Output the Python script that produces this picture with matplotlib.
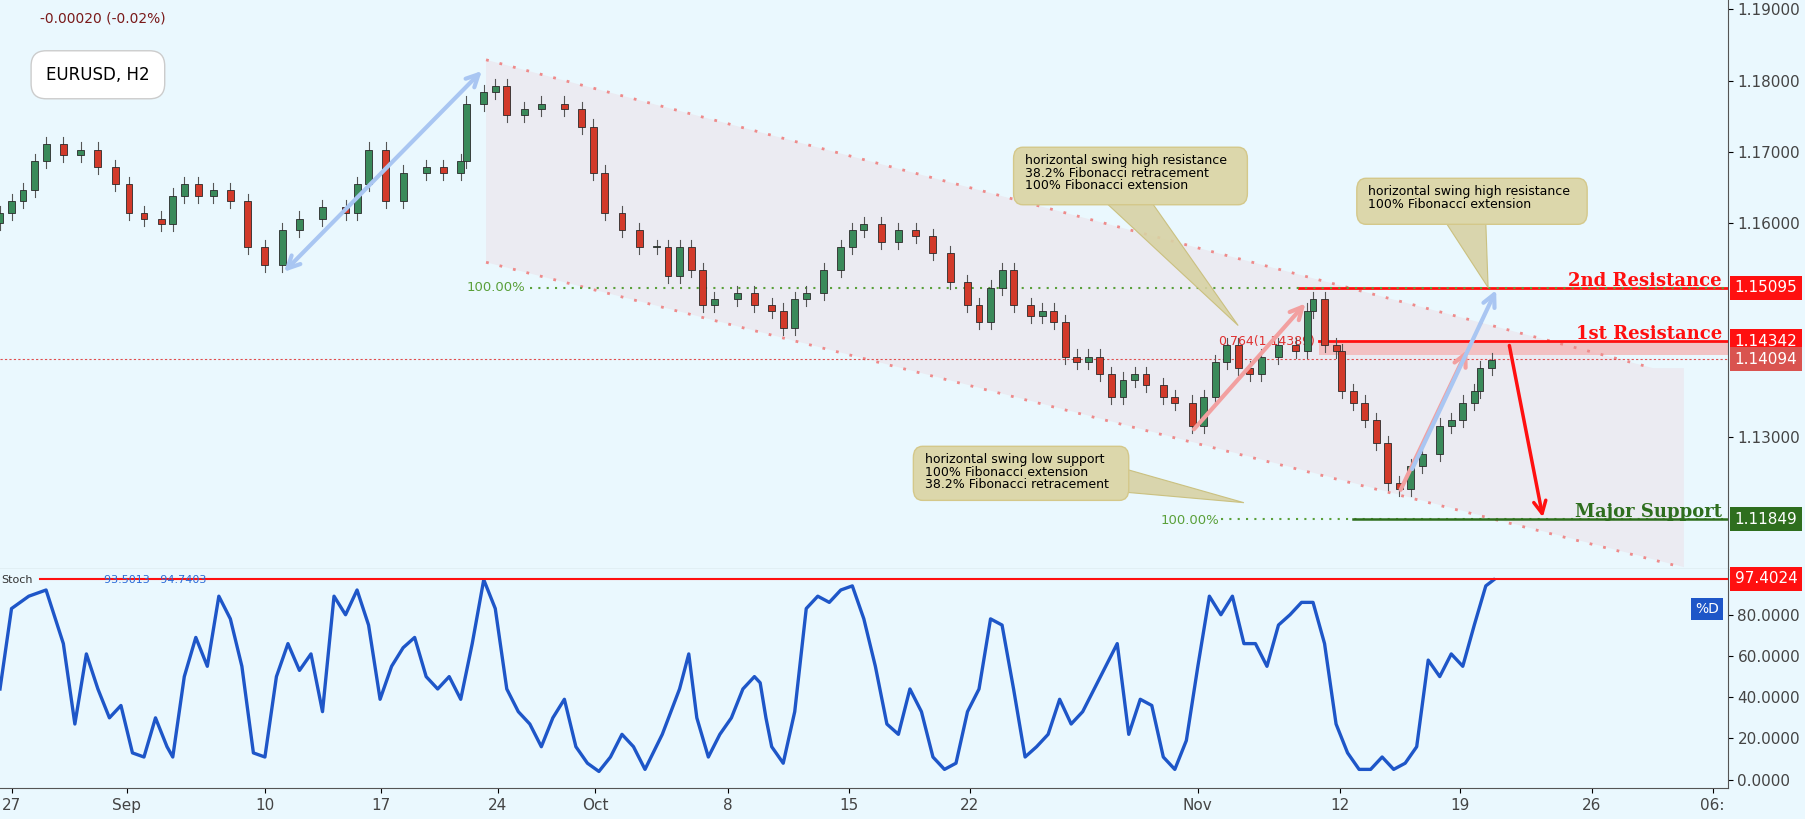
import matplotlib.pyplot as plt
import matplotlib.transforms as mtransforms
from matplotlib.patches import FancyBboxPatch, Polygon, Rectangle

# ---- data ----
bar_t = [0, 10, 20, 30, 40, 55, 70, 85, 100, 112, 125, 140, 150, 160, 172, 185, 200, 215, 230, 245,
         260, 280, 300, 310, 320, 335, 350, 370, 385,
         400, 405, 420, 430, 440, 455, 470, 490, 505, 515, 525, 540, 555, 570, 580, 590, 600, 610, 620, 640,
         655, 670, 680, 690, 700, 715, 730, 740, 750, 765, 780, 795, 810, 825, 840, 850, 860, 870, 880, 895,
         905, 915, 925, 935, 945, 955, 965, 975, 985, 995, 1010, 1020, 1035, 1045, 1055, 1065, 1075, 1085, 1095, 1110,
         1125, 1135, 1140, 1150, 1160, 1165, 1175, 1185, 1195, 1205, 1215, 1225, 1235, 1250, 1260, 1270, 1280, 1285, 1295]
closes = [1.16145, 1.16306, 1.16468, 1.16871, 1.17113, 1.16952, 1.17032, 1.16790, 1.16548, 1.16145,
          1.16065, 1.15984, 1.16387, 1.16548, 1.16387, 1.16468, 1.16306, 1.15661, 1.15419, 1.15903,
          1.16065, 1.16226, 1.16145, 1.16548, 1.17032, 1.16306, 1.16710, 1.16790, 1.16710,
          1.16871, 1.17677, 1.17839, 1.17920, 1.17516, 1.17597, 1.17677, 1.17597, 1.17355, 1.16710,
          1.16145, 1.15903, 1.15661, 1.15661, 1.15258, 1.15661, 1.15339, 1.14855, 1.14935, 1.15016,
          1.14855, 1.14774, 1.14532, 1.14935, 1.15016, 1.15339, 1.15661, 1.15903, 1.15984, 1.15742,
          1.15903, 1.15823, 1.15581, 1.15177, 1.14855, 1.14613, 1.15097, 1.15339, 1.14855, 1.14694,
          1.14774, 1.14613, 1.14129, 1.14048, 1.14129, 1.13887, 1.13565, 1.13806, 1.13887, 1.13726,
          1.13565, 1.13484, 1.13161, 1.13565, 1.14048, 1.14290, 1.13968, 1.13887, 1.14129, 1.14290,
          1.14210, 1.14774, 1.14935, 1.14290, 1.14210, 1.13645, 1.13484, 1.13242, 1.12920, 1.12355,
          1.12274, 1.12597, 1.12758, 1.13161, 1.13242, 1.13484, 1.13645, 1.13968, 1.14081]
first_open = 1.16000

stoch_t = [0, 10, 25, 40, 55, 65, 75, 85, 95, 105, 115, 125, 135, 145, 150, 160, 170, 180, 190, 200,
           210, 220, 230, 240, 250, 260, 270, 280, 290, 300, 310, 320, 330, 340, 350, 360, 370, 380, 390, 400,
           410, 420, 430, 440, 450, 460, 470, 480, 490, 500, 510, 520, 530, 540, 550, 560, 575, 590, 598, 605,
           615, 625, 635, 645, 655, 660, 665, 670, 680, 690, 700, 710, 720, 730, 740, 750, 760, 770, 780, 790,
           800, 810, 820, 830, 840, 850, 860, 870, 880, 890, 900, 910, 920, 930, 940, 950, 960, 970, 980, 990,
           1000, 1010, 1020, 1030, 1040, 1050, 1060, 1070, 1080, 1090, 1100, 1110, 1120, 1130, 1140, 1150, 1160, 1170, 1180, 1190,
           1200, 1210, 1220, 1230, 1240, 1250, 1260, 1270, 1280, 1290, 1297]
stoch_d = [44, 83, 89, 92, 66, 27, 61, 44, 30, 36, 13, 11, 30, 16, 11, 50, 69, 55, 89, 78,
           55, 13, 11, 50, 66, 53, 61, 33, 89, 80, 92, 75, 39, 55, 64, 69, 50, 44, 50, 39,
           66, 97, 83, 44, 33, 27, 16, 30, 39, 16, 8, 4, 11, 22, 16, 5, 22, 44, 61, 30,
           11, 22, 30, 44, 50, 47, 30, 16, 8, 33, 83, 89, 86, 92, 94, 78, 55, 27, 22, 44,
           33, 11, 5, 8, 33, 44, 78, 75, 44, 11, 16, 22, 39, 27, 33, 44, 55, 66, 22, 39,
           36, 11, 5, 19, 55, 89, 80, 89, 66, 66, 55, 75, 80, 86, 86, 66, 27, 13, 5, 5,
           11, 5, 8, 16, 58, 50, 61, 55, 75, 94, 97]

tick_pos = [10, 110, 230, 331, 432, 517, 632, 737, 842, 1040, 1163, 1268, 1382, 1487]
tick_lab = ['27', 'Sep', '10', '17', '24', 'Oct', '8', '15', '22', 'Nov', '12', '19', '26', '06:']
price_ticks = [1.13, 1.16, 1.17, 1.18, 1.19]
stoch_ticks = [0, 20, 40, 60, 80]

res2, res1, last_px, support, stoch_last = 1.15095, 1.14342, 1.14094, 1.11849, 97.4024

BG = '#eaf8fe'
W, H = 1568, 712  # layout grid in reference pixels


def box(x0, y0, x1, y1):
    return [x0 / W, 1 - y1 / H, (x1 - x0) / W, (y1 - y0) / H]


fig = plt.figure(figsize=(18.06, 8.19), dpi=100, facecolor=BG)
ax = fig.add_axes(box(0, 0, 1500, 495), facecolor=BG)
ax2 = fig.add_axes(box(0, 495, 1500, 685), facecolor=BG, sharex=ax)


def py(y):  # reference pixel row -> price
    return 1.19 - (y - 8) / 6200


# channel shading and dotted borders
ax.add_patch(Polygon([(422, py(52)), (1435, py(320)), (1462, py(320)), (1462, py(493)), (422, py(228))],
                     closed=True, facecolor='#ebebf2', edgecolor='none', zorder=0))
ax.plot([422, 1435], [py(52), py(320)], ls=(0, (1, 4)), color='#ee8a8a', lw=2)
ax.plot([422, 1460], [py(228), py(493)], ls=(0, (1, 4)), color='#ee8a8a', lw=2)

# horizontal levels
ax.axhline(last_px, color='#e05050', ls=(0, (2, 2)), lw=0.8)
ax.add_patch(Rectangle((1145, 1.1415), 355, res1 - 1.1415, facecolor='#f4b6b6', edgecolor='none', alpha=0.8, zorder=1))
ax.plot([1128, 1500], [res2, res2], color='#ff1010', lw=2)
ax.plot([1145, 1500], [res1, res1], color='#ff1010', lw=2)
ax.plot([460, 1500], [res2, res2], color='#5aa03a', ls=(0, (1, 3)), lw=1.5)
ax.plot([1060, 1500], [support, support], color='#5aa03a', ls=(0, (1, 3)), lw=1.5)
ax.plot([1175, 1500], [support, support], color='#2e6e1e', lw=1.8)
ax.text(405, res2, '100.00%', color='#5aa03a', fontsize=9.5, va='center')
ax.text(1008, support - 0.0002, '100.00%', color='#5aa03a', fontsize=9.5, va='center')
ax.text(1058, py(297), '0.764(1.14389)', color='#e03030', fontsize=9, va='center')
ax.text(1495, res2 + 0.0010, '2nd Resistance', color='#ff1010', fontsize=13, fontweight='bold',
        family='DejaVu Serif', ha='right', va='center')
ax.text(1495, res1 + 0.0010, '1st Resistance', color='#ff1010', fontsize=13, fontweight='bold',
        family='DejaVu Serif', ha='right', va='center')
ax.text(1495, support + 0.0010, 'Major Support', color='#2e6e1e', fontsize=13, fontweight='bold',
        family='DejaVu Serif', ha='right', va='center')

# candles
opens = [first_open] + closes[:-1]
for t, o, c in zip(bar_t, opens, closes):
    up = c >= o
    col = '#3a8a5a' if up else '#d23a2a'
    ax.plot([t, t], [min(o, c) - 0.0010, max(o, c) + 0.0010], color='#555555', lw=0.8, zorder=3)
    ax.add_patch(Rectangle((t - 3, min(o, c)), 6, max(abs(c - o), 0.0002), facecolor=col,
                           edgecolor='#2a2a2a', lw=0.6, zorder=4))


def arrow(x0, y0, x1, y1, color, both=False, lw=3):
    ax.annotate('', xy=(x1, py(y1)), xytext=(x0, py(y0)),
                arrowprops=dict(arrowstyle='<->' if both else '->', color=color, lw=lw,
                                mutation_scale=22), zorder=5)


arrow(245, 238, 420, 60, '#a9c6f2', both=True)
arrow(1035, 375, 1135, 262, '#f2a0a0')
arrow(1215, 428, 1275, 302, '#f2a0a0')
arrow(1225, 410, 1300, 250, '#a9c6f2')
arrow(1310, 298, 1340, 452, '#ff1010', lw=2.5)


def callout(x0, y0, x1, y1, base, tip, lines):
    ax.add_patch(Polygon([(base[0][0], py(base[0][1])), (tip[0], py(tip[1])), (base[1][0], py(base[1][1]))],
                         facecolor='#d8d2a4', edgecolor='#c8bd78', lw=0.8, alpha=0.9, zorder=6))
    ax.add_patch(FancyBboxPatch((x0, py(y1)), x1 - x0, py(y0) - py(y1), boxstyle='round,pad=0,rounding_size=8',
                                facecolor='#dcd7ab', edgecolor='#d4c88a', lw=1, zorder=6,
                                mutation_aspect=0.0002))
    ax.text(x0 + 10, py(y0 + 6), '\n'.join(lines), fontsize=9, va='top', zorder=7, linespacing=0.95)


callout(880, 128, 1083, 178, [(960, 176), (1000, 176)], (1075, 283),
        ['horizontal swing high resistance', '38.2% Fibonacci retracement', '100% Fibonacci extension'])
callout(1178, 155, 1378, 195, [(1255, 193), (1290, 193)], (1292, 250),
        ['horizontal swing high resistance', '100% Fibonacci extension'])
callout(793, 388, 980, 435, [(978, 408), (978, 428)], (1080, 437),
        ['horizontal swing low support', '100% Fibonacci extension', '38.2% Fibonacci retracement'])

# symbol box and change text
fig.text(35 / W, 1 - 16 / H, '-0.00020 (-0.02%)', color='#7a1a1a', fontsize=10, va='center')
fig.text(85 / W, 1 - 65 / H, 'EURUSD, H2', fontsize=12, ha='center', va='center',
         bbox=dict(boxstyle='round,pad=0.9', facecolor='white', edgecolor='#cccccc'))

ax.set_ylim(py(495), py(0))
ax.set_xlim(0, 1500)
ax.yaxis.tick_right()
ax.set_yticks(price_ticks)
ax.set_yticklabels([f'{v:.5f}' for v in price_ticks], fontsize=11, color='#444444')
ax.tick_params(axis='x', labelbottom=False, length=0)

# right-side value tags
trans = mtransforms.blended_transform_factory(ax.transAxes, ax.transData)
for val, col in [(res2, '#ff1010'), (res1, '#ff1010'), (last_px, '#d9534f'), (support, '#2e6e1e')]:
    ax.text(1.004, val, f'{val:.5f}', transform=trans, color='white', fontsize=11, va='center',
            bbox=dict(boxstyle='square,pad=0.3', facecolor=col, edgecolor='none'), clip_on=False)

# stochastic panel
ax2.plot(stoch_t, stoch_d, color='#1e56c8', lw=2.4)
ax2.axhline(stoch_last, xmin=35 / 1500, color='#ff1010', lw=1.5)
ax2.set_ylim(-4, 102)
ax2.yaxis.tick_right()
ax2.set_yticks(stoch_ticks)
ax2.set_yticklabels([f'{v:.4f}' for v in stoch_ticks], fontsize=11, color='#444444')
trans2 = mtransforms.blended_transform_factory(ax2.transAxes, ax2.transData)
ax2.text(1.004, stoch_last, f'{stoch_last:.4f}', transform=trans2, color='white', fontsize=11, va='center',
         bbox=dict(boxstyle='square,pad=0.3', facecolor='#ff1010', edgecolor='none'), clip_on=False)
ax2.text(0.995, 0.82, '%D', transform=ax2.transAxes, color='white', fontsize=10, ha='right', va='center',
         bbox=dict(boxstyle='square,pad=0.3', facecolor='#1e56c8', edgecolor='none'))
ax2.text(0.001, 0.95, 'Stoch', transform=ax2.transAxes, fontsize=8, va='center', color='#333333')
ax2.text(0.06, 0.95, '93.5013   94.7403', transform=ax2.transAxes, fontsize=8, va='center', color='#2a6ad8')
ax2.set_xticks(tick_pos)
ax2.set_xticklabels(tick_lab, fontsize=11, color='#444444')

for a in (ax, ax2):
    for s in ('top', 'left', 'bottom'):
        a.spines[s].set_visible(False)
    a.spines['right'].set_color('#555555')
    a.spines['bottom'].set_visible(True)
    a.spines['bottom'].set_color('#555555')

fig.savefig('out.png', dpi=100, facecolor=BG)
